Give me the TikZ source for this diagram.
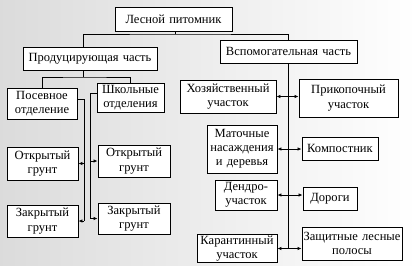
\documentclass[tikz,border=0pt]{standalone}
\usepackage{fontspec}
\setmainfont{Liberation Serif}
\usetikzlibrary{arrows.meta}

\begin{document}
\begin{tikzpicture}[
    x=0.75pt, y=-0.75pt,
    font=\fontsize{9.4}{10.6}\selectfont,
    blok/.style={draw, line width=0.65pt, fill=white, align=center, inner xsep=0pt, inner ysep=1pt},
    razmer/.style 2 args={text width=#1*0.75pt, minimum height=#2*0.75pt},
    liniya/.style={line width=0.65pt},
    strelka/.style={liniya, -{Latex[length=3pt, width=2.6pt]}},
    dvustrelka/.style={liniya, {Latex[length=3pt, width=2.6pt]}-{Latex[length=3pt, width=2.6pt]}}
  ]
    \useasboundingbox (0,0) rectangle (417,265);
    \shade[left color=gray!28, right color=white] (0,0) rectangle (417,265);

    \node[blok, razmer={117}{24}] (root) at (173.5,19) {Лесной питомник};
    \node[blok, razmer={134}{23}] (prod) at (90,58.5) {Продуцирующая часть};
    \node[blok, razmer={137}{23}] (vsp)  at (288.5,51.5) {Вспомогательная часть};

    \node[blok, razmer={70}{31}] (pos)  at (42,103.5) {Посевное\\отделение};
    \node[blok, razmer={67}{29}] (shk)  at (130.5,97.5) {Школьные\\отделения};
    \node[blok, razmer={71}{33}] (otk1) at (42.5,163.5) {Открытый\\грунт};
    \node[blok, razmer={72}{32}] (otk2) at (134,161) {Открытый\\грунт};
    \node[blok, razmer={71}{32}] (zak1) at (42.5,221) {Закрытый\\грунт};
    \node[blok, razmer={72}{31}] (zak2) at (134,218.5) {Закрытый\\грунт};

    \node[blok, razmer={96}{33}] (hoz)  at (228,96.5) {Хозяйственный\\участок};
    \node[blok, razmer={99}{38}] (prik) at (348.5,98) {Прикопочный\\участок};
    \node[blok, razmer={70}{48}] (mat)  at (242,149) {Маточные\\насаждения\\и деревья};
    \node[blok, razmer={76}{23}] (komp) at (340,148.5) {Компостник};
    \node[blok, razmer={62}{30}] (dend) at (246,195) {Дендро-\\участок};
    \node[blok, razmer={54}{23}] (dor)  at (330,198.5) {Дороги};
    \node[blok, razmer={80}{27}] (kar)  at (237,248.5) {Карантинный\\участок};
    \node[blok, razmer={100}{33}] (zash) at (352,243.5) {Защитные лесные\\полосы};

    \coordinate (rb) at (175,34);
    \coordinate (pk) at (83,34);
    \coordinate (pb) at (83,77);
    \coordinate (lv) at (84,0);
    \coordinate (rv) at (90,0);

    \draw[liniya] (root.south -| rb) -- (rb);
    \draw[liniya] (prod.north -| pk) |- (rb) -| (vsp.north);
    \draw[liniya] (prod.south -| pb) -- (pb);
    \draw[liniya] (pos.north) |- (pb) -| (shk.north);

    \draw[liniya] ([yshift=3pt]pos.east) -| (zak1.east -| lv);
    \draw[liniya] ([yshift=3pt]shk.west) -| (zak2.west -| rv);
    \foreach \n in {otk1,zak1} \draw[strelka] (\n.east -| lv) -- (\n.east);
    \foreach \n in {otk2,zak2} \draw[strelka] (\n.west -| rv) -- (\n.west);

    \draw[liniya] (vsp.south) -- (kar.east -| vsp.south);
    \foreach \a/\b in {hoz/prik, mat/komp, dend/dor, kar/zash}
      \draw[dvustrelka] (\a.east) -- (\a.east -| \b.west);
\end{tikzpicture}
\end{document}
